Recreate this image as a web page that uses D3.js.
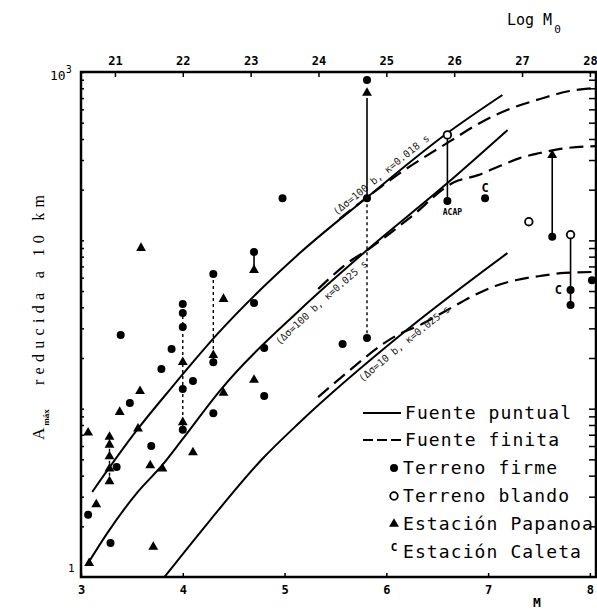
<!DOCTYPE html>
<html>
<head>
<meta charset="utf-8">
<script src="https://cdn.jsdelivr.net/npm/d3@7/dist/d3.min.js"></script>
<style>
  body { margin: 0; background: #fff; }
  svg { display: block; font-family: "DejaVu Sans Mono", monospace; }
</style>
</head>
<body>
<svg width="597" height="612"></svg>
<script>
// ticks
var magTicks = [3, 4, 5, 6, 7, 8];
var logM0Ticks = [21, 22, 23, 24, 25, 26, 27, 28];

// curvas fuente puntual  [M, A]
var puntualAlta = [[3.11, 3.2], [3.56, 7.6], [3.87, 12.9], [4.35, 28.2], [5.15, 84], [5.80, 178], [6.60, 434], [7.14, 730]];
var puntualMedia = [[3.07, 1.21], [3.26, 1.83], [3.55, 3.16], [3.80, 4.63], [3.99, 6.5], [4.37, 12.9], [5.15, 38.6], [5.80, 86.5], [6.60, 219], [7.19, 452]];
var puntualBaja = [[3.82, 1.0], [4.27, 2.18], [4.79, 5.09], [5.15, 8.3], [6.20, 29.3], [7.19, 84]];

// curvas fuente finita
var finitaAlta = [[5.54, 134], [5.80, 178], [6.18, 262], [6.60, 379], [6.92, 498], [7.21, 603], [7.51, 691], [7.80, 771], [8.06, 804]];
var finitaMedia = [[5.33, 51.4], [5.66, 76.4], [5.80, 86.5], [6.23, 136], [6.67, 222], [6.90, 244], [7.12, 277], [7.31, 308], [7.51, 330], [7.71, 349], [8.06, 363]];
var finitaBaja = [[5.33, 11.7], [5.56, 15.4], [6.11, 27.4], [6.35, 31.8], [6.60, 38.6], [6.85, 46.7], [7.07, 53.6], [7.28, 58.1], [7.51, 61.4], [7.75, 64.0], [8.06, 64.9]];

var etiquetasCurvas = ["(\u0394\u03c3=100 b, \u03ba=0.018 s", "(\u0394\u03c3=100 b, \u03ba=0.025 s", "(\u0394\u03c3=10 b, \u03ba=0.025 s"];
var etiquetasM = [6.0, 5.3, 6.12];

// observaciones [M, A]
var terrenoFirme = [[5.81, 897], [5.81, 178], [5.81, 26.3], [6.60, 171], [6.97, 178], [7.63, 105], [7.81, 50.7], [7.81, 41.3],
  [8.02, 58], [5.57, 24.2], [4.98, 178], [4.70, 85.3], [4.30, 63.1], [4.70, 42.4], [4.00, 41.9], [4.00, 37.0], [4.00, 30.6],
  [3.39, 27.4], [3.89, 22.6], [3.79, 17.2], [4.10, 14.6], [4.80, 22.9], [4.80, 11.9], [3.48, 10.8], [4.30, 9.4], [4.00, 7.5],
  [3.69, 6.0], [3.35, 4.5], [3.07, 2.34], [3.29, 1.59], [4.00, 13.1], [4.30, 18.9]];
var terrenoBlando = [[6.60, 423], [7.40, 129], [7.81, 108]];
var papanoa = [[5.81, 750], [3.59, 90], [4.70, 66.6], [4.40, 44.8], [4.30, 20.8], [4.00, 18.9], [4.70, 14.8], [4.40, 12.4],
  [3.58, 12.7], [3.38, 9.55], [4.00, 8.3], [3.56, 7.6], [3.07, 7.2], [3.28, 6.8], [3.28, 6.1], [3.28, 5.2], [3.28, 4.4],
  [3.28, 3.7], [4.10, 5.5], [3.68, 4.6], [3.80, 4.4], [3.15, 2.7], [3.71, 1.51], [3.08, 1.21], [7.63, 321]];
var caleta = [[6.97, 205], [7.69, 50.7]];
var acapulco = [[6.60, 171]];

// enlaces verticales [M, Asup, Ainf]
var enlacesContinuos = [[5.81, 700, 178], [6.60, 423, 171], [7.63, 321, 105], [7.81, 108, 41.3], [4.70, 85, 66.6]];
var enlacesPunteados = [[5.81, 178, 26.3], [4.30, 63.1, 18.9], [4.00, 41.9, 7.5], [3.28, 6.8, 3.7]];

var legendItems = ["Fuente puntual", "Fuente finita", "Terreno firme", "Terreno blando", "Estaci\u00f3n Papanoa", "Estaci\u00f3n Caleta"];

var svg = d3.select("svg");

var x = d3.scaleLinear().domain([3, 8.06]).range([81, 596]);
var xTop = d3.scaleLinear().domain([20.5, 28.09]).range([81, 596]);
var y = d3.scaleLog().domain([1, 1000]).range([577, 72]);

var minor = [];
[1, 10, 100].forEach(function (d) {
  for (var i = 2; i <= 10; i++) minor.push(i * d);
});

// frame
svg.append("rect")
  .attr("x", x(3)).attr("y", y(1000))
  .attr("width", 596 - x(3)).attr("height", y(1) - y(1000))
  .attr("fill", "none").attr("stroke", "#000").attr("stroke-width", 2.5);

var topAxis = d3.axisTop(xTop).tickValues(logM0Ticks).tickSize(-5).tickPadding(7).tickFormat(d3.format("d"));
svg.append("g").attr("transform", "translate(0," + y(1000) + ")").call(topAxis);

var bottomAxis = d3.axisBottom(x).tickValues(magTicks).tickSize(-4).tickPadding(8).tickFormat(d3.format("d"));
svg.append("g").attr("transform", "translate(0," + y(1) + ")").call(bottomAxis);

var rightAxis = d3.axisLeft(y).tickValues(minor).tickSize(7).tickFormat("");
svg.append("g").attr("transform", "translate(596,0)").call(rightAxis);

var leftAxis = d3.axisRight(y).tickValues(minor).tickSize(3).tickFormat("");
svg.append("g").attr("transform", "translate(" + x(3) + ",0)").call(leftAxis);

svg.selectAll(".domain").remove();
svg.selectAll(".tick line").attr("stroke", "#000").attr("stroke-width", 1.5);
svg.selectAll(".tick text").attr("font-size", 12).attr("font-weight", "bold").attr("fill", "#000")
  .attr("font-family", "DejaVu Sans Mono");

// y tick labels
svg.append("text").attr("x", 50).attr("y", y(1000) + 8).attr("font-size", 13).text("10")
  .append("tspan").attr("dy", -7).attr("font-size", 10).text("3");
svg.append("text").attr("x", 68).attr("y", y(1) - 5).attr("font-size", 11).text("1");

// axis titles
var t0 = svg.append("text").attr("x", 507).attr("y", 25).attr("font-size", 15).text("Log M");
t0.append("tspan").attr("dy", 8).attr("dx", 2).attr("font-size", 11).text("0");
svg.append("text").attr("x", 533).attr("y", 607).attr("font-size", 13).attr("font-weight", "bold").text("M");

svg.append("text").attr("transform", "translate(44,440) rotate(-90)")
  .attr("font-family", "Liberation Serif").attr("font-size", 17).text("A")
  .append("tspan").attr("dy", 5).attr("dx", 2).attr("font-size", 9).attr("font-weight", "bold").text("m\u00e1x");
svg.append("text").attr("transform", "translate(44,385) rotate(-90)")
  .attr("font-family", "Liberation Serif").attr("font-size", 16)
  .attr("textLength", 190).attr("lengthAdjust", "spacing").text("reducida a 10 km");

// curves
var line = d3.line().x(function (d) { return x(d[0]); }).y(function (d) { return y(d[1]); }).curve(d3.curveMonotoneX);

var solidCurves = [puntualAlta, puntualMedia, puntualBaja];
var dashedCurves = [finitaAlta, finitaMedia, finitaBaja];

svg.selectAll("path.puntual").data(solidCurves).enter().append("path")
  .attr("class", "puntual").attr("id", function (d, i) { return "p" + i; })
  .attr("d", line).attr("fill", "none").attr("stroke", "#000").attr("stroke-width", 2);

svg.selectAll("path.finita").data(dashedCurves).enter().append("path")
  .attr("class", "finita").attr("d", line).attr("fill", "none")
  .attr("stroke", "#000").attr("stroke-width", 2.2).attr("stroke-dasharray", "14,7");

// labels along curves
function lengthAtX(node, px) {
  var lo = 0, hi = node.getTotalLength();
  for (var k = 0; k < 30; k++) {
    var mid = (lo + hi) / 2;
    if (node.getPointAtLength(mid).x < px) lo = mid; else hi = mid;
  }
  return lo;
}
var labelDy = [-5, 12, 12];
etiquetasCurvas.forEach(function (t, i) {
  var node = d3.select("#p" + i).node();
  svg.append("text").attr("dy", labelDy[i]).attr("font-size", 10).attr("fill", "#222")
    .append("textPath").attr("href", "#p" + i)
    .attr("startOffset", lengthAtX(node, x(etiquetasM[i])))
    .attr("text-anchor", "middle").text(t);
});

// vertical links
svg.selectAll("line.cont").data(enlacesContinuos).enter().append("line")
  .attr("x1", function (d) { return x(d[0]); }).attr("x2", function (d) { return x(d[0]); })
  .attr("y1", function (d) { return y(d[1]); }).attr("y2", function (d) { return y(d[2]); })
  .attr("stroke", "#000").attr("stroke-width", 1.6);
svg.selectAll("line.punt").data(enlacesPunteados).enter().append("line")
  .attr("x1", function (d) { return x(d[0]); }).attr("x2", function (d) { return x(d[0]); })
  .attr("y1", function (d) { return y(d[1]); }).attr("y2", function (d) { return y(d[2]); })
  .attr("stroke", "#000").attr("stroke-width", 1.4).attr("stroke-dasharray", "3,3");

// markers
var tri = d3.symbol().type(d3.symbolTriangle).size(42);

svg.selectAll("circle.firme").data(terrenoFirme).enter().append("circle")
  .attr("cx", function (d) { return x(d[0]); }).attr("cy", function (d) { return y(d[1]); })
  .attr("r", 4).attr("fill", "#000");
svg.selectAll("circle.blando").data(terrenoBlando).enter().append("circle")
  .attr("cx", function (d) { return x(d[0]); }).attr("cy", function (d) { return y(d[1]); })
  .attr("r", 3.8).attr("fill", "#fff").attr("stroke", "#000").attr("stroke-width", 1.8);
svg.selectAll("path.papanoa").data(papanoa).enter().append("path")
  .attr("d", tri).attr("transform", function (d) { return "translate(" + x(d[0]) + "," + y(d[1]) + ")"; })
  .attr("fill", "#000");
svg.selectAll("text.caleta").data(caleta).enter().append("text")
  .attr("x", function (d) { return x(d[0]); }).attr("y", function (d) { return y(d[1]) + 4; })
  .attr("text-anchor", "middle").attr("font-size", 12).attr("font-weight", "bold").text("C");
svg.selectAll("text.acap").data(acapulco).enter().append("text")
  .attr("x", function (d) { return x(d[0]) + 5; }).attr("y", function (d) { return y(d[1]) + 14; })
  .attr("text-anchor", "middle").attr("font-size", 8).attr("font-weight", "bold").text("ACAP");

// legend
var legend = svg.append("g");
var rowsY = [413, 440, 468, 496, 524, 552];
legendItems.forEach(function (t, i) {
  legend.append("text").attr("x", i < 2 ? 405 : 403).attr("y", rowsY[i] + 6)
    .attr("font-size", 18).attr("letter-spacing", 1.1).attr("fill", "#000").text(t);
});
legend.append("line").attr("x1", 363).attr("x2", 401).attr("y1", rowsY[0]).attr("y2", rowsY[0])
  .attr("stroke", "#000").attr("stroke-width", 2);
legend.append("line").attr("x1", 363).attr("x2", 401).attr("y1", rowsY[1]).attr("y2", rowsY[1])
  .attr("stroke", "#000").attr("stroke-width", 2.2).attr("stroke-dasharray", "10,4");
legend.append("circle").attr("cx", 394).attr("cy", rowsY[2]).attr("r", 4).attr("fill", "#000");
legend.append("circle").attr("cx", 394).attr("cy", rowsY[3]).attr("r", 3.8).attr("fill", "#fff")
  .attr("stroke", "#000").attr("stroke-width", 1.8);
legend.append("path").attr("d", tri).attr("transform", "translate(394," + rowsY[4] + ")").attr("fill", "#000");
legend.append("text").attr("x", 394).attr("y", rowsY[5] - 1).attr("text-anchor", "middle")
  .attr("font-size", 11).attr("font-weight", "bold").text("C");
</script>
</body>
</html>
